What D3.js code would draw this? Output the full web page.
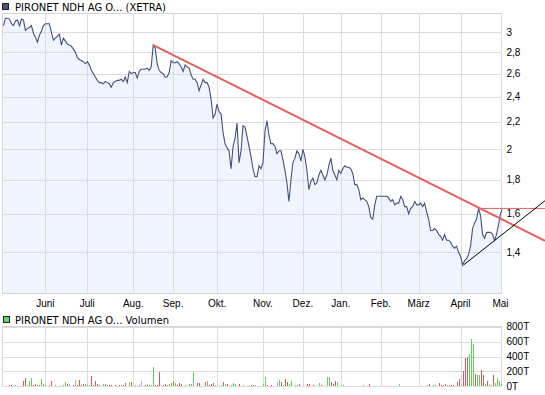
<!DOCTYPE html>
<html>
<head>
<meta charset="utf-8">
<script src="https://cdn.jsdelivr.net/npm/d3@7"></script>
<style>
  body { margin: 0; background: #fff; }
  svg { display: block; }
  text { font-family: "Liberation Sans", Arial, sans-serif; font-size: 10px; fill: #000; }
  text.legend { font-family: "DejaVu Sans", Verdana, sans-serif; font-size: 10px; }
</style>
</head>
<body>
<svg width="545" height="395"></svg>
<script>
// month ticks (trading-day index of first day of month)
var months   = ["Juni", "Juli", "Aug.", "Sep.", "Okt.", "Nov.", "Dez.", "Jan.", "Feb.", "März", "April", "Mai"];
var monthDay = [21, 42, 65, 85, 107, 130, 150, 169, 189, 208, 229, 249];

var priceTicks = [1.4, 1.6, 1.8, 2, 2.2, 2.4, 2.6, 2.8, 3];
var volTicks   = [0, 200, 400, 600, 800];

// daily close, EUR
var closePrice = [
  3.07, 3.15, 3.15, 3.14, 3.09, 3.07, 3.12, 3.13, 3.07, 3.14,
  3.13, 3.02, 3.04, 3.05, 3.07, 2.99, 2.95, 2.90, 2.97, 3.01,
  3.07, 3.09, 3.09, 3.09, 3.00, 2.92, 2.94, 2.96, 2.98, 2.87,
  2.94, 2.91, 2.88, 2.87, 2.86, 2.83, 2.80, 2.75, 2.73, 2.72,
  2.71, 2.69, 2.71, 2.68, 2.63, 2.60, 2.57, 2.54, 2.52, 2.52,
  2.51, 2.53, 2.52, 2.51, 2.48, 2.52, 2.53, 2.54, 2.54, 2.55,
  2.53, 2.57, 2.52, 2.62, 2.60, 2.61, 2.61, 2.56, 2.62, 2.64,
  2.64, 2.64, 2.65, 2.63, 2.66, 2.87, 2.84, 2.69, 2.63, 2.61,
  2.60, 2.57, 2.57, 2.61, 2.72, 2.70, 2.70, 2.71, 2.69, 2.66,
  2.62, 2.68, 2.66, 2.65, 2.59, 2.55, 2.55, 2.52, 2.45, 2.50,
  2.55, 2.52, 2.52, 2.48, 2.38, 2.23, 2.26, 2.34, 2.28, 2.26,
  2.12, 2.04, 2.01, 1.99, 1.87, 2.02, 2.08, 2.19, 1.91, 1.99,
  2.17, 2.16, 2.09, 2.02, 1.95, 1.87, 1.82, 1.82, 1.89, 1.87,
  1.91, 2.13, 2.21, 2.10, 2.04, 2.04, 2.02, 1.97, 1.99, 1.99,
  1.93, 1.86, 1.78, 1.67, 1.80, 1.91, 1.94, 1.99, 1.97, 1.92,
  2.00, 1.95, 1.86, 1.74, 1.79, 1.81, 1.77, 1.78, 1.83, 1.86,
  1.83, 1.80, 1.83, 1.89, 1.94, 1.86, 1.83, 1.80, 1.86, 1.84,
  1.87, 1.89, 1.88, 1.88, 1.87, 1.84, 1.77, 1.77, 1.74, 1.68,
  1.69, 1.68, 1.67, 1.64, 1.58, 1.57, 1.65, 1.70, 1.70, 1.70,
  1.70, 1.70, 1.70, 1.69, 1.67, 1.68, 1.65, 1.66, 1.66, 1.70,
  1.68, 1.64, 1.64, 1.60, 1.63, 1.64, 1.67, 1.65, 1.65, 1.66,
  1.64, 1.66, 1.61, 1.57, 1.51, 1.51, 1.52, 1.51, 1.49, 1.48,
  1.46, 1.49, 1.46, 1.46, 1.45, 1.43, 1.42, 1.43, 1.40, 1.38,
  1.34, 1.36, 1.37, 1.39, 1.43, 1.52, 1.55, 1.57, 1.63, 1.59,
  1.49, 1.47, 1.50, 1.50, 1.50, 1.49, 1.46, 1.49, 1.54, 1.60,
  1.63
];

// volume: day index, amount in thousands (T), direction u=up d=down n=unchanged
var volDay = [
  3, 4, 6, 10, 11, 12, 13, 14, 15, 16,
  17, 18, 19, 20, 21, 23, 24, 26, 30, 31,
  32, 33, 35, 36, 37, 38, 39, 40, 41, 42,
  43, 44, 45, 46, 47, 48, 50, 51, 52, 53,
  54, 56, 58, 59, 60, 61, 63, 64, 66, 68,
  69, 71, 72, 73, 74, 75, 76, 77, 78, 80,
  81, 82, 83, 84, 85, 86, 87, 88, 89, 91,
  93, 94, 95, 97, 98, 101, 102, 103, 104, 105,
  106, 109, 110, 111, 112, 114, 115, 116, 118, 120,
  124, 125, 126, 130, 131, 132, 134, 137, 138, 139,
  140, 141, 142, 143, 144, 146, 147, 148, 152, 153,
  155, 158, 159, 162, 163, 164, 165, 166, 167, 170,
  180, 183, 198, 212, 213, 215, 216, 218, 219, 220,
  221, 222, 223, 224, 225, 227, 228, 229, 230, 231,
  232, 233, 234, 235, 236, 237, 238, 239, 240, 241,
  242, 243, 244, 245, 246, 247, 248, 249
];
var volAmt = [
  13, 13, 13, 68, 112, 13, 68, 112, 13, 27,
  13, 13, 95, 27, 13, 13, 68, 13, 13, 54,
  27, 27, 13, 81, 13, 81, 13, 27, 27, 13,
  13, 135, 13, 68, 27, 13, 27, 27, 13, 13,
  13, 13, 13, 13, 13, 40, 54, 54, 13, 13,
  68, 13, 27, 13, 13, 256, 13, 13, 190, 13,
  27, 13, 27, 40, 68, 40, 13, 40, 27, 13,
  27, 27, 190, 40, 40, 54, 68, 13, 27, 40,
  13, 13, 54, 27, 27, 13, 40, 27, 27, 13,
  13, 13, 13, 27, 126, 13, 13, 54, 81, 54,
  13, 95, 54, 27, 68, 13, 13, 27, 27, 27,
  13, 40, 13, 126, 126, 54, 27, 68, 54, 13,
  13, 27, 27, 13, 27, 13, 13, 40, 13, 13,
  27, 13, 13, 13, 13, 54, 95, 13, 203, 383,
  396, 428, 635, 567, 171, 158, 158, 216, 149, 36,
  68, 27, 13, 149, 40, 117, 68, 27
];
var volDir = [
  "d", "d", "u", "d", "d", "u", "u", "u", "d", "d",
  "u", "d", "u", "u", "u", "n", "d", "u", "u", "u",
  "d", "n", "d", "n", "d", "d", "u", "d", "u", "d",
  "u", "d", "d", "d", "d", "d", "u", "d", "u", "d",
  "d", "d", "d", "u", "d", "d", "u", "d", "u", "u",
  "n", "d", "u", "u", "u", "u", "d", "d", "d", "d",
  "d", "u", "u", "u", "d", "u", "d", "d", "d", "u",
  "u", "u", "u", "d", "d", "d", "u", "d", "d", "d",
  "u", "u", "d", "n", "d", "u", "u", "u", "d", "u",
  "d", "d", "u", "u", "u", "d", "d", "n", "u", "d",
  "u", "d", "d", "u", "u", "u", "u", "d", "d", "d",
  "d", "u", "d", "u", "u", "d", "d", "d", "u", "u",
  "u", "d", "u", "u", "d", "u", "u", "d", "d", "u",
  "d", "u", "d", "d", "d", "d", "d", "u", "d", "d",
  "d", "u", "u", "u", "d", "u", "u", "d", "d", "u",
  "d", "n", "u", "d", "u", "u", "u", "u"
];

// trend lines drawn on the chart: [day index, price]
var trendRed   = [[75, 2.87], [271.3, 1.457]];
var levelRed   = [[238, 1.63], [271.3, 1.63]];
var trendBlack = [[230.5, 1.34], [271.3, 1.674]];

var svg = d3.select("svg");
var pLeft = 2.5, pRight = 501.5, pTop = 13.5, pBottom = 293.5;
var vTop = 326.5, vBottom = 386.5;

var x = d3.scaleLinear().domain([0, 250]).range([3.5, 502.5]);
var y = d3.scaleLog().domain([1.216, 3.204]).range([293, 13.3]);
var yv = d3.scaleLinear().domain([0, 800]).range([386.3, 326.7]);

var grid = "#dcdcdc";

function gx(d) { return Math.round(x(d)) + 0.5; }

// ---- price panel
var g = svg.append("g");
g.append("rect").attr("x", pLeft).attr("y", pTop).attr("width", pRight - pLeft).attr("height", pBottom - pTop)
  .attr("fill", "#fff").attr("stroke", "#d4d4d4");

svg.append("clipPath").attr("id", "clip").append("rect")
  .attr("x", pLeft).attr("y", pTop).attr("width", pRight - pLeft + 1).attr("height", pBottom - pTop);

var area = d3.area()
  .x(function(d, i) { return x(i); })
  .y0(pBottom - 0.5)
  .y1(function(d) { return y(d); });
var line = d3.line()
  .x(function(d, i) { return x(i); })
  .y(function(d) { return y(d); });

var plot = g.append("g").attr("clip-path", "url(#clip)");
plot.append("path").datum(closePrice).attr("d", area).attr("fill", "#f0f4fe");

plot.selectAll(".vg").data(monthDay).enter().append("line")
  .attr("x1", gx).attr("x2", gx)
  .attr("y1", pTop).attr("y2", pBottom)
  .attr("stroke", grid);
plot.selectAll(".hg").data(priceTicks).enter().append("line")
  .attr("x1", pLeft).attr("x2", pRight)
  .attr("y1", function(d) { return Math.round(y(d)) + 0.5; })
  .attr("y2", function(d) { return Math.round(y(d)) + 0.5; })
  .attr("stroke", grid);

plot.append("path").datum(closePrice).attr("d", line)
  .attr("fill", "none").attr("stroke", "#46517a").attr("stroke-width", 1.1);

// trend lines
var tl = d3.line().x(function(d) { return x(d[0]); }).y(function(d) { return y(d[1]); });
svg.append("path").datum(trendRed).attr("d", tl).attr("stroke", "#e06262").attr("stroke-width", 2).attr("fill", "none");
svg.append("path").datum(levelRed).attr("d", tl).attr("stroke", "#e06262").attr("stroke-width", 1).attr("fill", "none");
svg.append("path").datum(trendBlack).attr("d", tl).attr("stroke", "#000").attr("stroke-width", 1).attr("fill", "none");

// y labels
svg.selectAll(".yl").data(priceTicks).enter().append("text")
  .attr("x", 506.5).attr("y", function(d) { return y(d) + 3.5; })
  .text(function(d) { return String(d).replace(".", ","); });

// month labels
svg.selectAll(".ml").data(monthDay).enter().append("text")
  .attr("x", function(d) { return x(d); }).attr("y", 307)
  .attr("text-anchor", "middle")
  .text(function(d, i) { return months[i]; });

// legends
svg.append("rect").attr("x", 2.5).attr("y", 3.5).attr("width", 6).attr("height", 6)
  .attr("fill", "#4a5570").attr("stroke", "#222");
svg.append("text").attr("class", "legend").attr("x", 15).attr("y", 10.5).text("PIRONET NDH AG O... (XETRA)");
svg.append("rect").attr("x", 3.5).attr("y", 316.5).attr("width", 6).attr("height", 6)
  .attr("fill", "#66d466").attr("stroke", "#222");
svg.append("text").attr("class", "legend").attr("x", 15).attr("y", 323.5).text("PIRONET NDH AG O... Volumen");

// ---- volume panel
var gv = svg.append("g");
gv.append("rect").attr("x", pLeft).attr("y", vTop).attr("width", pRight - pLeft).attr("height", vBottom - vTop)
  .attr("fill", "#fff").attr("stroke", "#d4d4d4");
gv.selectAll(".vg").data(monthDay).enter().append("line")
  .attr("x1", gx).attr("x2", gx)
  .attr("y1", vTop).attr("y2", vBottom)
  .attr("stroke", grid);
gv.selectAll(".hg").data(volTicks).enter().append("line")
  .attr("x1", pLeft).attr("x2", pRight)
  .attr("y1", function(d) { return Math.round(yv(d)) + 0.5; })
  .attr("y2", function(d) { return Math.round(yv(d)) + 0.5; })
  .attr("stroke", grid);

var volColor = { u: "#55d955", d: "#e05555", n: "#b4b4b4" };
gv.selectAll(".vb").data(volDay).enter().append("rect")
  .attr("x", function(d) { return Math.round(x(d)); })
  .attr("width", 1)
  .attr("y", function(d, i) { return Math.round(yv(volAmt[i])); })
  .attr("height", function(d, i) { return Math.round(yv(0)) - Math.round(yv(volAmt[i])); })
  .attr("fill", function(d, i) { return volColor[volDir[i]]; })
  .attr("shape-rendering", "crispEdges");

svg.selectAll(".vl").data(volTicks).enter().append("text")
  .attr("x", 506.5).attr("y", function(d) { return yv(d) + 3.5; })
  .text(function(d) { return d + "T"; });
</script>
</body>
</html>
